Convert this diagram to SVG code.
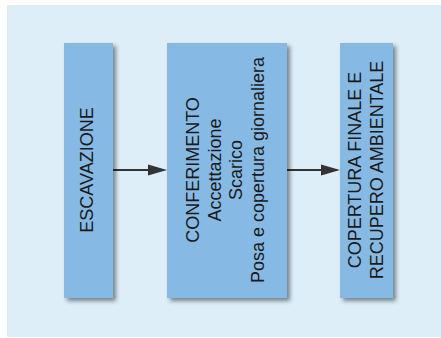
<svg xmlns="http://www.w3.org/2000/svg" width="441" height="338" viewBox="0 0 441 338">
<defs>
<style>
.box{fill:#86b9e4;filter:url(#sh)}
.t{font-family:"Liberation Sans",Arial,sans-serif;font-size:18px;fill:#1a1a1a;text-anchor:middle}
.ln{stroke:#333;stroke-width:2;fill:none}
.hd{fill:#333}
</style>
<filter id="sh" x="-20%" y="-10%" width="150%" height="130%">
<feDropShadow dx="3" dy="3" stdDeviation="2" flood-color="#000" flood-opacity="0.45"/>
</filter>
</defs>
<rect x="0" y="0" width="441" height="338" fill="#ffffff"/>
<rect x="7" y="5" width="434" height="332" fill="#ddeef9"/>
<g id="connectors">
<line class="ln" x1="113" y1="170" x2="150" y2="170"/>
<polygon class="hd" points="148,164.5 167,170 148,175.5"/>
<line class="ln" x1="287" y1="170" x2="322" y2="170"/>
<polygon class="hd" points="321,164.5 340,170 321,175.5"/>
</g>
<g id="n1">
<rect class="box" x="64" y="43" width="49" height="255"/>
<text class="t" x="93" y="170" transform="rotate(-90 93 170)">ESCAVAZIONE</text>
</g>
<g id="n2">
<rect class="box" x="167" y="43" width="120" height="255"/>
<text class="t" x="199" y="170" transform="rotate(-90 199 170)">CONFERIMENTO</text>
<text class="t" x="220.5" y="170" transform="rotate(-90 220.5 170)">Accettazione</text>
<text class="t" x="242" y="170" transform="rotate(-90 242 170)">Scarico</text>
<text class="t" x="263.5" y="170" transform="rotate(-90 263.5 170)">Posa e copertura giornaliera</text>
</g>
<g id="n3">
<rect class="box" x="340" y="43" width="53" height="255"/>
<text class="t" x="360.5" y="170" transform="rotate(-90 360.5 170)">COPERTURA FINALE E</text>
<text class="t" x="382.5" y="170" transform="rotate(-90 382.5 170)">RECUPERO AMBIENTALE</text>
</g>
</svg>
